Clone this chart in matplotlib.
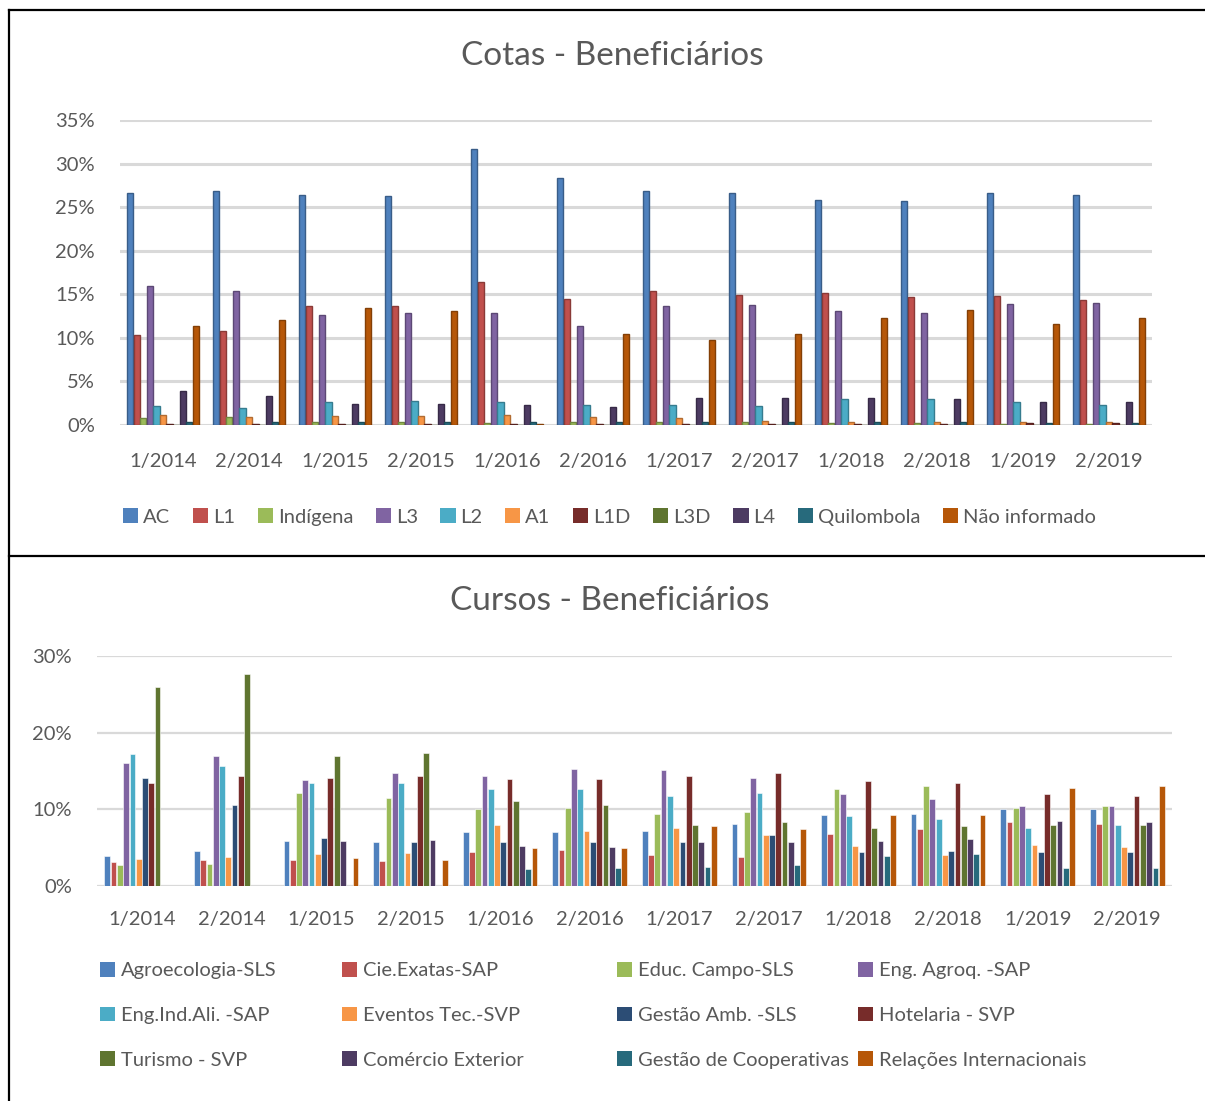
import numpy as np
import matplotlib.pyplot as plt
from matplotlib.patches import Patch
from matplotlib.lines import Line2D

plt.rcParams['font.family'] = ['Lato', 'DejaVu Sans']

# ---- data: Cotas (%) ----
semestres = ["1/2014", "2/2014", "1/2015", "2/2015", "1/2016", "2/2016",
             "1/2017", "2/2017", "1/2018", "2/2018", "1/2019", "2/2019"]

cotas_nomes = ["AC", "L1", "Indígena", "L3", "L2", "A1", "L1D", "L3D", "L4",
               "Quilombola", "Não informado"]
cotas_cores = ["#4F81BD", "#C0504D", "#9BBB59", "#8064A2", "#4BACC6", "#F79646",
               "#772C2A", "#5F7530", "#4D3B62", "#276A7C", "#B65708"]

ac = [26.6, 26.8, 26.4, 26.3, 31.7, 28.3, 26.8, 26.6, 25.8, 25.7, 26.6, 26.4]
l1 = [10.3, 10.8, 13.6, 13.7, 16.4, 14.5, 15.4, 14.9, 15.1, 14.7, 14.8, 14.4]
indigena = [0.8, 0.9, 0.4, 0.4, 0.2, 0.3, 0.4, 0.4, 0.2, 0.2, 0.1, 0.1]
l3 = [16.0, 15.4, 12.6, 12.9, 12.8, 11.4, 13.6, 13.8, 13.1, 12.9, 13.9, 14.0]
l2 = [2.2, 2.0, 2.6, 2.7, 2.6, 2.3, 2.3, 2.2, 3.0, 3.0, 2.6, 2.3]
a1 = [1.1, 0.9, 1.0, 1.0, 1.2, 0.9, 0.8, 0.5, 0.4, 0.4, 0.3, 0.3]
l1d = [0.1, 0.1, 0.1, 0.1, 0.1, 0.1, 0.1, 0.1, 0.1, 0.1, 0.2, 0.2]
l3d = [0.05, 0.05, 0.05, 0.05, 0.05, 0.05, 0.05, 0.05, 0.05, 0.05, 0.05, 0.05]
l4 = [3.9, 3.3, 2.4, 2.4, 2.3, 2.1, 3.1, 3.1, 3.1, 3.0, 2.6, 2.6]
quilombola = [0.3, 0.3, 0.3, 0.3, 0.4, 0.3, 0.3, 0.3, 0.3, 0.3, 0.2, 0.2]
nao_inf = [11.4, 12.0, 13.4, 13.1, 0.1, 10.5, 9.7, 10.4, 12.3, 13.2, 11.6, 12.3]
cotas_valores = [ac, l1, indigena, l3, l2, a1, l1d, l3d, l4, quilombola, nao_inf]

# ---- data: Cursos (%) ----
cursos_nomes = ["Agroecologia-SLS", "Cie.Exatas-SAP", "Educ. Campo-SLS", "Eng. Agroq. -SAP",
                "Eng.Ind.Ali. -SAP", "Eventos Tec.-SVP", "Gestão Amb. -SLS", "Hotelaria - SVP",
                "Turismo - SVP", "Comércio Exterior", "Gestão de Cooperativas",
                "Relações Internacionais"]
cursos_cores = ["#4F81BD", "#C0504D", "#9BBB59", "#8064A2", "#4BACC6", "#F79646",
                "#2C4D75", "#772C2A", "#5F7530", "#4D3B62", "#276A7C", "#B65708"]

agroeco = [3.9, 4.6, 5.9, 5.7, 7.0, 7.0, 7.2, 8.1, 9.3, 9.4, 10.0, 10.0]
cie_ex = [3.1, 3.4, 3.4, 3.2, 4.5, 4.7, 4.0, 3.8, 6.8, 7.4, 8.3, 8.1]
educ = [2.7, 2.9, 12.1, 11.5, 10.1, 10.2, 9.4, 9.7, 12.6, 13.0, 10.2, 10.4]
eng_agroq = [16.0, 16.9, 13.8, 14.7, 14.4, 15.3, 15.1, 14.1, 12.0, 11.4, 10.4, 10.4]
eng_ind = [17.2, 15.7, 13.5, 13.5, 12.6, 12.7, 11.8, 12.1, 9.1, 8.8, 7.6, 7.9]
eventos = [3.5, 3.8, 4.2, 4.3, 7.9, 7.2, 7.6, 6.6, 5.2, 4.1, 5.3, 5.1]
gest_amb = [14.1, 10.6, 6.2, 5.7, 5.8, 5.7, 5.8, 6.6, 4.5, 4.6, 4.4, 4.4]
hotelaria = [13.4, 14.4, 14.1, 14.4, 13.9, 13.9, 14.4, 14.7, 13.7, 13.5, 12.0, 11.8]
turismo = [25.9, 27.6, 16.9, 17.3, 11.1, 10.6, 8.0, 8.3, 7.6, 7.8, 7.9, 7.9]
comercio = [0, 0, 5.9, 6.0, 5.2, 5.1, 5.8, 5.7, 5.9, 6.1, 8.5, 8.3]
cooperat = [0, 0, 0, 0, 2.2, 2.3, 2.5, 2.7, 3.9, 4.2, 2.3, 2.3]
rel_int = [0, 0, 3.6, 3.4, 4.9, 4.9, 7.8, 7.4, 9.3, 9.2, 12.8, 13.0]
cursos_valores = [agroeco, cie_ex, educ, eng_agroq, eng_ind, eventos, gest_amb,
                  hotelaria, turismo, comercio, cooperat, rel_int]

texto = "#595959"
grade = "#D9D9D9"


def escurecer(cor, f=0.72):
    r, g, b = [int(cor[i:i + 2], 16) / 255 for i in (1, 3, 5)]
    return (r * f, g * f, b * f)


def pct(v, pos):
    return f"{v:.0%}"


fig = plt.figure(figsize=(12.05, 11.01), dpi=100)

# ---------------- Cotas ----------------
ax1 = fig.add_axes([120 / 1205, 1 - 425 / 1101, 1032 / 1205, 305 / 1101])
x = np.arange(len(semestres))
n = len(cotas_nomes)
w = 0.84 / n
for i, (vals, cor) in enumerate(zip(cotas_valores, cotas_cores)):
    pos = x - 0.42 + w * (i + 0.5)
    ax1.bar(pos, np.array(vals) / 100, width=w * 0.95, color=cor,
            edgecolor=escurecer(cor), linewidth=1.0, zorder=3)
ax1.set_ylim(0, 0.35)
ax1.set_xlim(-0.5, len(semestres) - 0.5)
ax1.set_yticks(np.arange(0, 0.351, 0.05))
ax1.yaxis.set_major_formatter(plt.FuncFormatter(pct))
ax1.set_xticks(x)
ax1.set_xticklabels(semestres)
ax1.yaxis.grid(True, color=grade, linewidth=2.2, zorder=0)
ax1.set_axisbelow(True)
for s in ax1.spines.values():
    s.set_visible(False)
ax1.tick_params(axis='both', length=0, labelsize=14.5, colors=texto)
ax1.tick_params(axis='y', pad=18)
ax1.tick_params(axis='x', pad=20)
fig.text(612 / 1205, 1 - 56 / 1101, "Cotas - Beneficiários", ha='center', va='center',
         fontsize=24, color=texto)

h1 = [Patch(facecolor=c, edgecolor='none') for c in cotas_cores]
fig.legend(h1, cotas_nomes, loc='center left', bbox_to_anchor=(123 / 1205, 1 - 517 / 1101),
           ncol=n, frameon=False, fontsize=14.5, labelcolor=texto,
           handlelength=0.75, handleheight=0.75, handletextpad=0.25, columnspacing=1.12,
           borderaxespad=0, borderpad=0)

# ---------------- Cursos ----------------
ax2 = fig.add_axes([97 / 1205, 1 - 886 / 1101, 1075 / 1205, 230 / 1101])
m = len(cursos_nomes)
w2 = 0.84 / m
for i, (vals, cor) in enumerate(zip(cursos_valores, cursos_cores)):
    pos = x - 0.42 + w2 * (i + 0.5)
    ax2.bar(pos, np.array(vals) / 100, width=w2 * 0.92, color=cor,
            edgecolor='white', linewidth=0.4, zorder=3)
ax2.set_ylim(0, 0.30)
ax2.set_xlim(-0.5, len(semestres) - 0.5)
ax2.set_yticks([0, 0.1, 0.2, 0.3])
ax2.yaxis.set_major_formatter(plt.FuncFormatter(pct))
ax2.set_xticks(x)
ax2.set_xticklabels(semestres)
ax2.yaxis.grid(True, color=grade, linewidth=1.6, zorder=0)
ax2.set_axisbelow(True)
for s in ax2.spines.values():
    s.set_visible(False)
ax2.tick_params(axis='both', length=0, labelsize=14.5, colors=texto)
ax2.tick_params(axis='y', pad=18)
ax2.tick_params(axis='x', pad=18)
fig.text(610 / 1205, 1 - 601 / 1101, "Cursos - Beneficiários", ha='center', va='center',
         fontsize=24, color=texto)

# legend in 4 equal-width columns, 3 rows (row-major order)
col_x = [100, 342, 617, 858]
for c in range(4):
    idx = [c, c + 4, c + 8]
    hs = [Patch(facecolor=cursos_cores[k], edgecolor='none') for k in idx]
    fig.legend(hs, [cursos_nomes[k] for k in idx], loc='upper left',
               bbox_to_anchor=(col_x[c] / 1205, 1 - 962 / 1101), ncol=1, frameon=False,
               fontsize=14.5, labelcolor=texto, handlelength=0.75, handleheight=0.75,
               handletextpad=0.3, labelspacing=1.35, borderaxespad=0, borderpad=0)

# outer frame lines
fig.add_artist(Line2D([9 / 1205, 9 / 1205], [0, 1 - 10 / 1101], transform=fig.transFigure,
                      color='black', linewidth=1.6))
fig.add_artist(Line2D([9 / 1205, 1], [1 - 10 / 1101, 1 - 10 / 1101], transform=fig.transFigure,
                      color='black', linewidth=1.6))
fig.add_artist(Line2D([9 / 1205, 1], [1 - 556 / 1101, 1 - 556 / 1101], transform=fig.transFigure,
                      color='black', linewidth=1.6))

fig.savefig("out.png", dpi=100)
